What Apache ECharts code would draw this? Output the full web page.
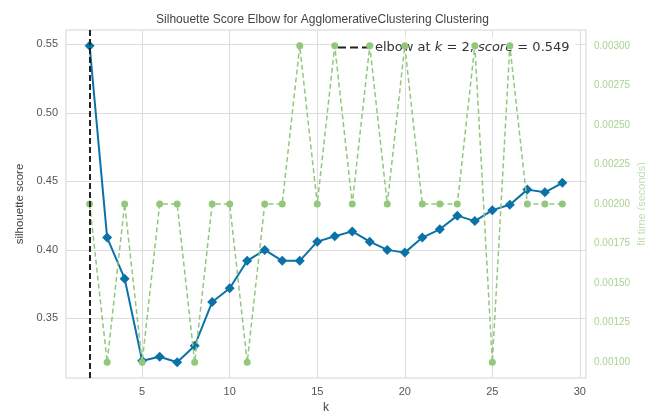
<!DOCTYPE html>
<html><head><meta charset="utf-8">
<script src="https://cdn.jsdelivr.net/npm/echarts@6/dist/echarts.min.js"></script>
<style>html,body{margin:0;padding:0;background:#fff}#c{width:645px;height:413px}</style>
</head><body><div id="c"></div>
<script>
const kValues = [2,3,4,5,6,7,8,9,10,11,12,13,14,15,16,17,18,19,20,21,22,23,24,25,26,27,28,29];
const silhouetteScores = [0.549,0.409,0.379,0.319,0.322,0.318,0.330,0.362,0.372,0.392,0.400,0.392,0.392,0.406,0.410,0.4135,0.406,0.400,0.398,0.409,0.415,0.425,0.421,0.429,0.433,0.444,0.442,0.449];
const fitTimes = [0.002,0.001,0.002,0.001,0.002,0.002,0.001,0.002,0.002,0.001,0.002,0.002,0.003,0.002,0.003,0.002,0.003,0.002,0.003,0.002,0.002,0.002,0.003,0.001,0.003,0.002,0.002,0.002];
const elbowK = 2;
const elbowScore = 0.549;
const xTicks = [5,10,15,20,25,30];
const leftTicks = [0.35,0.40,0.45,0.50,0.55];
const rightTicks = [0.001,0.00125,0.0015,0.00175,0.002,0.00225,0.0025,0.00275,0.003];

function pad(lo, hi){ const m=(hi-lo)*0.05; return [lo-m, hi+m]; }
const xr = pad(Math.min(...kValues), Math.max(...kValues));
const lr = pad(Math.min(...silhouetteScores), Math.max(...silhouetteScores));
const rr = pad(Math.min(...fitTimes), Math.max(...fitTimes));

const FONT = 'Liberation Sans';
const green = '#93C77C';
const legendName = 'elbow';

const chart = echarts.init(document.getElementById('c'), null, {renderer:'canvas'});
chart.setOption({
  backgroundColor:'#fff',
  animation:false,
  title:{text:'Silhouette Score Elbow for AgglomerativeClustering Clustering', left:'center', top:9,
    textStyle:{fontFamily:FONT, fontSize:12, fontWeight:'normal', color:'#444'}},
  grid:{left:66, right:59, top:30, bottom:35, show:true, borderColor:'#d4d4d4', borderWidth:1,
    containLabel:false, outerBoundsMode:'none'},
  legend:{
    data:[legendName], left:332, top:37, padding:[4,6], itemGap:6, z:1,
    backgroundColor:'rgba(255,255,255,0.85)',
    icon:'path://M0,0 L8,0 L8,2 L0,2 Z M12,0 L20,0 L20,2 L12,2 Z M24,0 L32,0 L32,2 L24,2 Z',
    itemWidth:32, itemHeight:2.5,
    formatter: () => 'elbow at {i|k} = ' + elbowK + ', {i|score} = ' + elbowScore.toFixed(3),
    textStyle:{fontFamily:'DejaVu Sans', fontSize:13, color:'#333',
      rich:{i:{fontFamily:'DejaVu Sans', fontStyle:'italic', fontSize:13, color:'#333'}}}
  },
  xAxis:{type:'value', min:xr[0], max:xr[1], name:'k', nameLocation:'middle', nameGap:24, z:0,
    nameTextStyle:{fontFamily:FONT, fontSize:12, color:'#444'},
    axisLine:{show:false},
    axisTick:{show:false, customValues:xTicks},
    axisLabel:{customValues:xTicks, fontFamily:FONT, fontSize:11, color:'#555', margin:8},
    splitLine:{show:true, lineStyle:{color:'#dcdcdc', width:1}}
  },
  yAxis:[
    {type:'value', min:lr[0], max:lr[1], name:'silhouette score', nameLocation:'middle', nameGap:37, nameRotate:90, z:0,
      nameTextStyle:{fontFamily:FONT, fontSize:11.5, color:'#444'},
      axisLine:{show:false},
      axisTick:{show:false, customValues:leftTicks},
      axisLabel:{customValues:leftTicks, formatter:v=>v.toFixed(2), fontFamily:FONT, fontSize:11, color:'#555', margin:8},
      splitLine:{show:true, lineStyle:{color:'#dcdcdc', width:1}}
    },
    {type:'value', position:'right', min:rr[0], max:rr[1], name:'fit time (seconds)', nameLocation:'middle', nameGap:50, nameRotate:90, z:0,
      nameMoveOverlap:false,
      nameTextStyle:{fontFamily:FONT, fontSize:11, color:'#bfdeb0'},
      axisLine:{show:false},
      axisTick:{show:false, customValues:rightTicks},
      axisLabel:{customValues:rightTicks, formatter:v=>v.toFixed(5), fontFamily:FONT, fontSize:10, color:'#a9d38f', margin:8},
      splitLine:{show:false}
    }
  ],
  series:[
    {name:'silhouette', type:'line', yAxisIndex:0, z:3,
      data:kValues.map((k,i)=>[k, silhouetteScores[i]]),
      symbol:'diamond', symbolSize:10, color:'#0B72A8',
      lineStyle:{color:'#0B72A8', width:2}, itemStyle:{color:'#0B72A8'}},
    {name:'fit time', type:'line', yAxisIndex:1, z:4,
      data:kValues.map((k,i)=>[k, fitTimes[i]]),
      symbol:'circle', symbolSize:7, color:green,
      lineStyle:{color:green, width:1.5, type:[5,3]}, itemStyle:{color:green}},
    {name:legendName, type:'line', yAxisIndex:0, z:2, color:'#222',
      data:[], symbol:'none',
      markLine:{silent:true, symbol:'none', label:{show:false},
        lineStyle:{color:'#222', width:2, type:[6,3]},
        data:[{xAxis:elbowK}]}}
  ]
});
</script>
</body></html>
